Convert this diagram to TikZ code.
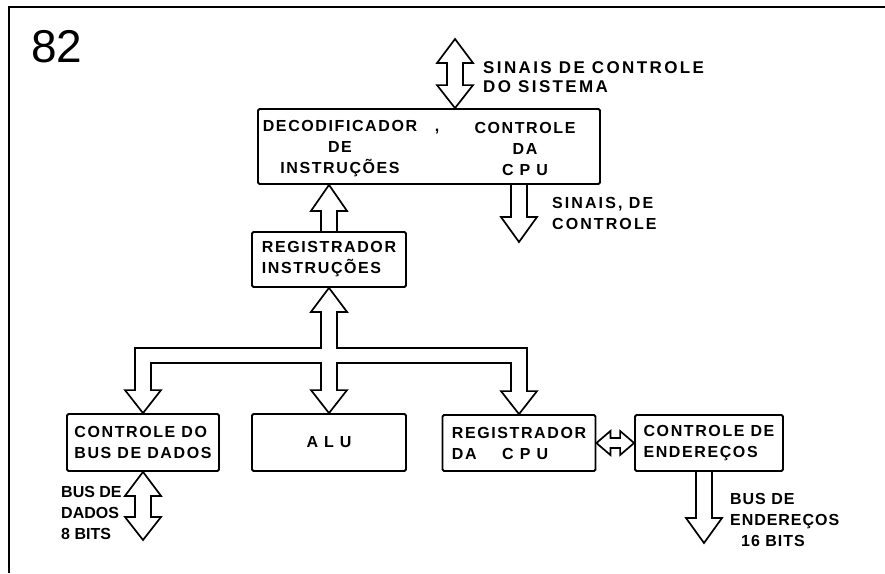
\documentclass[tikz,border=0pt]{standalone}
\usepackage{fontspec}
\setmainfont{Liberation Sans}
\newfontfamily\lettering{Liberation Sans}[LetterSpace=10]
\usetikzlibrary{positioning,calc}

\newcommand{\letterfont}{\lettering\bfseries\fontsize{16}{21}\selectfont}

\tikzstyle{frame} = [line width=2.2pt]
\tikzstyle{box} = [draw, line width=1.8pt, rounded corners=1.5pt, inner sep=0pt, align=left, font=\letterfont]
\tikzstyle{txt} = [inner sep=0pt, font=\letterfont]
\tikzstyle{fat} = [draw, line width=1.7pt, line join=miter]

\begin{document}
\begin{tikzpicture}[x=1pt,y=-1pt]
\useasboundingbox (0,0) rectangle (885,573);
\draw[frame] (9,573) -- (9,7) -- (885,7);
\node[inner sep=0pt, anchor=base west, font=\fontsize{46}{46}\selectfont] (num) at (31,62) {82};

% blocos
\node[box, minimum width=342pt, minimum height=75pt] (dec) at (429,146.5) {};
\node[txt, align=center] (decl) at (340,149) {DECODIFICADOR\rlap{\hspace{1.1em},}\\DE\\INSTRUÇÕES};
\node[txt, align=center] (decr) at (525,149) {CONTROLE\\DA\\C P U};
\node[box, minimum width=154pt, minimum height=55pt] (regi) at (329,259.5) {REGISTRADOR\\INSTRUÇÕES};
\node[box, minimum width=152pt, minimum height=57pt] (cbus) at (143,442.5) {CONTROLE DO\\BUS DE DADOS};
\node[box, minimum width=154pt, minimum height=57pt] (alu) at (329,442.5) {A L U};
\node[box, minimum width=153pt, minimum height=56pt] (regc) at (519,443) {REGISTRADOR\\DA\hspace{1.6em}C P U};
\node[box, minimum width=148pt, minimum height=56pt] (cend) at (709,443) {CONTROLE DE\\ENDEREÇOS};

% rotulos
\node[txt, align=left, anchor=west, font=\letterfont\fontsize{17}{19}\selectfont\addfontfeature{LetterSpace=14}] (sys) at (483,77.5) {SINAIS DE CONTROLE\\DO SISTEMA};
\node[txt, align=left, anchor=west, font=\letterfont\addfontfeature{LetterSpace=13}] (ctl) at (552,213) {SINAIS, DE\\CONTROLE};
\node[txt, align=left, anchor=west, font=\letterfont\addfontfeature{LetterSpace=0}] (dad) at (61,513) {BUS DE\\DADOS\\8 BITS};
\node[txt, align=left, anchor=west, font=\letterfont\addfontfeature{LetterSpace=6}] (end) at (730,520) {BUS DE\\ENDEREÇOS\\\hspace*{11pt}16 BITS};

\coordinate (systop) at (455,39);
\coordinate (ctltip) at (519,242);
\coordinate (dadtip) at (143,540);
\coordinate (endtip) at (704,543);
\coordinate (bt) at (0,348);
\coordinate (bb) at (0,363);

% setas
\draw[fat] (systop) -- ++(18,24) -- ++(-10,0) -- ($(systop |- dec.north)+(8,-23)$) -- ++(10,0)
    -- (systop |- dec.north) -- ++(-18,-23) -- ++(10,0) -- ($(systop)+(-8,24)$) -- ++(-10,0) -- cycle;
\draw[fat] (ctltip |- dec.south) ++(-8,0) -- ($(ctltip)+(-8,-25)$) -- ++(-10,0) -- (ctltip)
    -- ++(18,-25) -- ++(-10,0) -- ($(ctltip |- dec.south)+(8,0)$);
\draw[fat] ([xshift=-8pt]regi.north) -- ($(regi.north |- dec.south)+(-8,26)$) -- ++(-10,0)
    -- (regi.north |- dec.south) -- ++(18,26) -- ++(-10,0) -- ([xshift=8pt]regi.north);

% barramento
\draw[fat] (regi.south) -- ++(18,24) -- ++(-10,0) -- ($(regi.south |- bt)+(8,0)$)
    -- ($(regc.north |- bt)+(8,0)$) -- ($(regc.north)+(8,-23)$) -- ++(10,0) -- (regc.north)
    -- ++(-18,-23) -- ++(10,0) -- ($(regc.north |- bb)+(-8,0)$)
    -- ($(alu.north |- bb)+(8,0)$) -- ($(alu.north)+(8,-23)$) -- ++(10,0) -- (alu.north)
    -- ++(-18,-23) -- ++(10,0) -- ($(alu.north |- bb)+(-8,0)$)
    -- ($(cbus.north |- bb)+(8,0)$) -- ($(cbus.north)+(8,-23)$) -- ++(10,0) -- (cbus.north)
    -- ++(-18,-23) -- ++(10,0) -- ($(cbus.north |- bt)+(-8,0)$)
    -- ($(regi.south |- bt)+(-8,0)$) -- ($(regi.south)+(-8,24)$) -- ++(-10,0) -- cycle;

\draw[fat] (cbus.south) -- ++(18,24) -- ++(-10,0) -- ($(dadtip)+(8,-23)$) -- ++(10,0) -- (dadtip)
    -- ++(-18,-23) -- ++(10,0) -- ($(cbus.south)+(-8,24)$) -- ++(-10,0) -- cycle;
\draw[fat] (regc.east) -- ++(14,-12) -- ++(0,7) -- ($(cend.west)+(-14,-5)$) -- ++(0,-7) -- (cend.west)
    -- ++(-14,12) -- ++(0,-7) -- ($(regc.east)+(14,5)$) -- ++(0,7) -- cycle;
\draw[fat] (endtip |- cend.south) ++(-8,0) -- ($(endtip)+(-8,-25)$) -- ++(-10,0) -- (endtip)
    -- ++(18,-25) -- ++(-10,0) -- ($(endtip |- cend.south)+(8,0)$);
\end{tikzpicture}
\end{document}
